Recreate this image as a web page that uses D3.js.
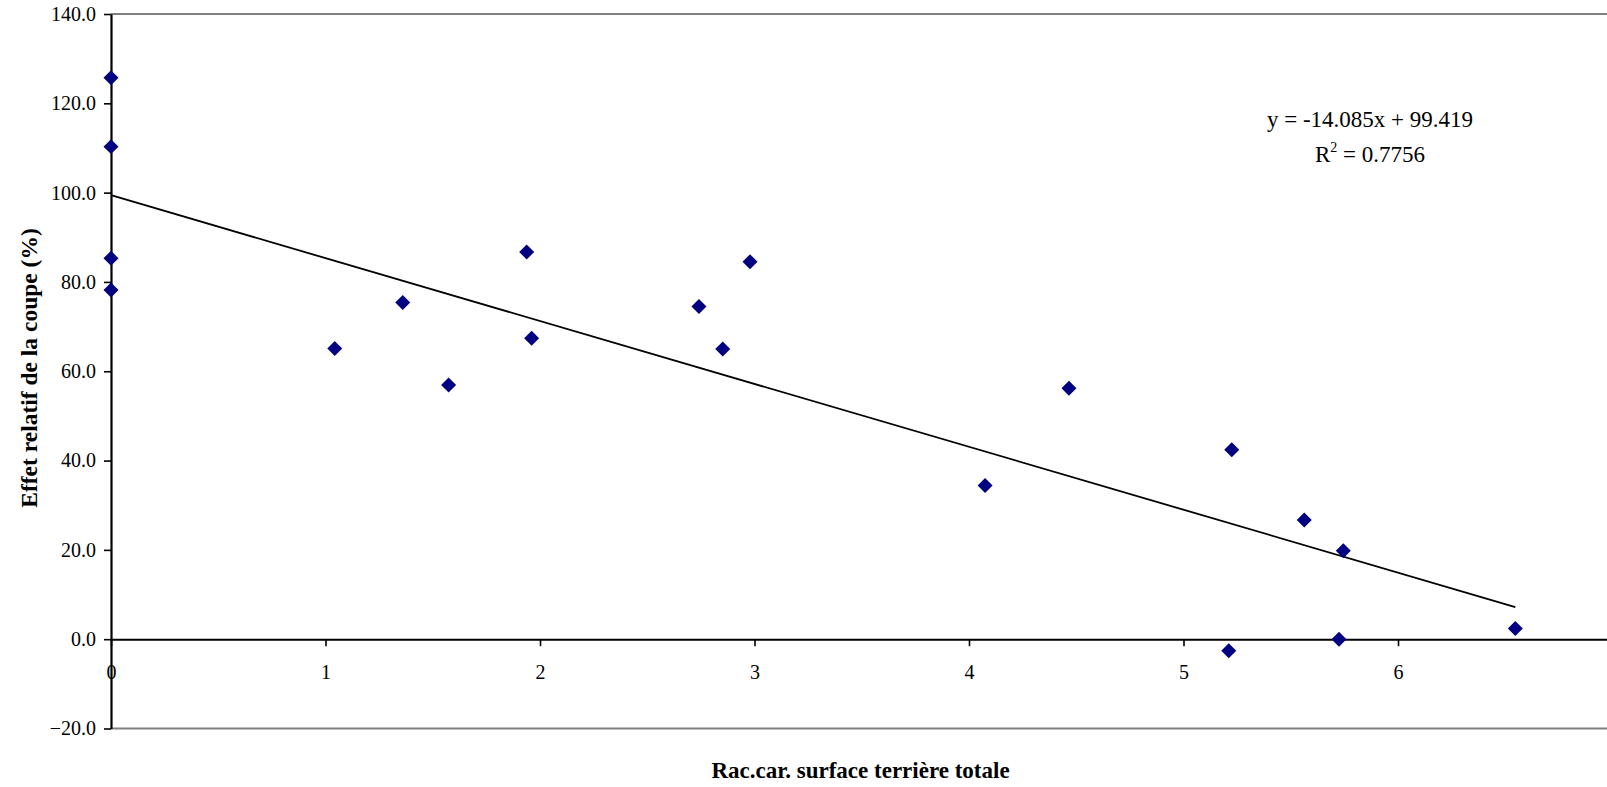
<!DOCTYPE html>
<html>
<head>
<meta charset="utf-8">
<script src="https://cdn.jsdelivr.net/npm/d3@7"></script>
<style>
  html, body { margin: 0; padding: 0; background: #fff; overflow: hidden; }
  svg { display: block; }
  text { font-family: "Liberation Serif", "Times New Roman", serif; fill: #000; }
</style>
</head>
<body>
<svg id="chart" width="1607" height="787"></svg>
<script>
// ---- data ----
const xValues = [0, 0, 0, 0, 1.043, 1.36, 1.574, 1.938, 1.961, 2.741, 2.852, 2.979,
                 4.075, 4.466, 5.225, 5.211, 5.563, 5.725, 5.745, 6.547];
const yValues = [125.7, 110.3, 85.3, 78.2, 65.1, 75.4, 56.9, 86.7, 67.4, 74.5, 65.0, 84.5,
                 34.4, 56.2, 42.4, -2.6, 26.7, 0.0, 19.8, 2.4];
const yTicks = [-20, 0, 20, 40, 60, 80, 100, 120, 140];
const xTicks = [0, 1, 2, 3, 4, 5, 6, 7];
const trendSlope = -14.085;
const trendIntercept = 99.419;
const equationLabel = "y = -14.085x + 99.419";
const r2Label = "0.7756";
const xTitle = "Rac.car. surface terrière totale";
const yTitle = "Effet relatif de la coupe (%)";

const points = xValues.map((x, i) => ({ x, y: yValues[i] }));

const svg = d3.select("#chart");
const x = d3.scaleLinear().domain([0, 7]).range([111, 1612.5]);
const y = d3.scaleLinear().domain([-20, 140]).range([728.5, 14]);

// plot frame (top & bottom gray)
svg.append("line").attr("x1", x(0)).attr("x2", 1607).attr("y1", y(140)).attr("y2", y(140))
  .attr("stroke", "#808080").attr("stroke-width", 2);
svg.append("line").attr("x1", x(0)).attr("x2", 1607).attr("y1", y(-20)).attr("y2", y(-20))
  .attr("stroke", "#808080").attr("stroke-width", 2);

// y axis
const yAxis = svg.append("g").attr("transform", `translate(${x(0)},0)`)
  .call(d3.axisLeft(y).tickValues(yTicks).tickFormat(d3.format(".1f")).tickSize(7).tickSizeOuter(0).tickPadding(8));
yAxis.select(".domain").attr("stroke", "#000").attr("stroke-width", 2.2);
yAxis.selectAll(".tick line").attr("stroke", "#000").attr("stroke-width", 1.6);
yAxis.selectAll(".tick text").attr("font-size", "20px").attr("fill", "#000")
  .style("font-family", '"Liberation Serif", "Times New Roman", serif');

// x axis at y = 0
const xAxis = svg.append("g").attr("transform", `translate(0,${y(0)})`)
  .call(d3.axisBottom(x).tickValues(xTicks).tickFormat(d3.format("d")).tickSize(7).tickSizeOuter(0).tickPadding(19));
xAxis.select(".domain").attr("stroke", "#000").attr("stroke-width", 2);
xAxis.selectAll(".tick line").attr("stroke", "#000").attr("stroke-width", 1.6);
xAxis.selectAll(".tick text").attr("font-size", "20px").attr("fill", "#000")
  .style("font-family", '"Liberation Serif", "Times New Roman", serif');

// trend line
const xMin = d3.min(xValues), xMax = d3.max(xValues);
const trend = [xMin, xMax].map(v => ({ x: v, y: trendSlope * v + trendIntercept }));
svg.append("path").datum(trend)
  .attr("d", d3.line().x(d => x(d.x)).y(d => y(d.y)))
  .attr("fill", "none").attr("stroke", "#000").attr("stroke-width", 1.8);

// points (diamonds)
const diamond = d3.symbol().type(d3.symbolSquare).size(112);
svg.append("g").selectAll("path").data(points).join("path")
  .attr("d", diamond)
  .attr("transform", d => `translate(${x(d.x)},${y(d.y)}) rotate(45)`)
  .attr("fill", "#000080");

// equation labels
svg.append("text").attr("x", 1370).attr("y", 127).attr("text-anchor", "middle")
  .attr("font-size", "23px").text(equationLabel);
const r2 = svg.append("text").attr("x", 1370).attr("y", 162).attr("text-anchor", "middle")
  .attr("font-size", "23px");
r2.append("tspan").text("R");
r2.append("tspan").attr("font-size", "14px").attr("dy", -10).text("2");
r2.append("tspan").attr("dy", 10).text(" = " + r2Label);

// axis titles
svg.append("text").attr("x", 860.5).attr("y", 778).attr("text-anchor", "middle")
  .attr("font-size", "23px").attr("font-weight", "bold").text(xTitle);
svg.append("text").attr("transform", "translate(37,368) rotate(-90)")
  .attr("text-anchor", "middle").attr("font-size", "23.5px").attr("font-weight", "bold").text(yTitle);
</script>
</body>
</html>
